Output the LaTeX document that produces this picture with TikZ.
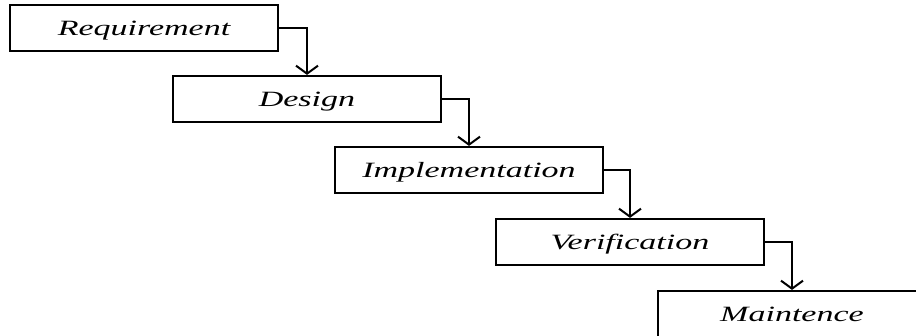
\documentclass[tikz,border=0pt]{standalone}
\usepackage{fontspec}
\setmainfont{Liberation Serif}
\newfontfamily\boxfont{Liberation Serif}[FakeStretch=1.56]
\usetikzlibrary{arrows.meta}
\tikzset{
  stagebox/.style={draw=black, line width=2.2pt, minimum width=268pt, minimum height=46pt,
    inner sep=0pt, text height=15pt, text depth=1pt,
    font=\boxfont\itshape\fontsize{21.8}{26}\selectfont},
  flow/.style={draw=black, line width=2pt, -{Straight Barb[length=8pt,width=22pt,line width=2pt]}}
}
\begin{document}
\begin{tikzpicture}[x=1pt,y=-1pt]
\fill[white] (0,0) rectangle (916,335);
\clip (0,0) rectangle (916,335);
\useasboundingbox (0,0) rectangle (916,335);
\node[stagebox] (req) at (144,28) {Requirement};
\node[stagebox] (des) at (307,99) {Design};
\node[stagebox] (imp) at (469,170) {Implementation};
\node[stagebox] (ver) at (630,242) {Verification};
\node[stagebox] (mai) at (792,314) {Maintence};
\draw[flow] (req.east) -| (des.north);
\draw[flow] (des.east) -| (imp.north);
\draw[flow] (imp.east) -| (ver.north);
\draw[flow] (ver.east) -| (mai.north);
\end{tikzpicture}
\end{document}
